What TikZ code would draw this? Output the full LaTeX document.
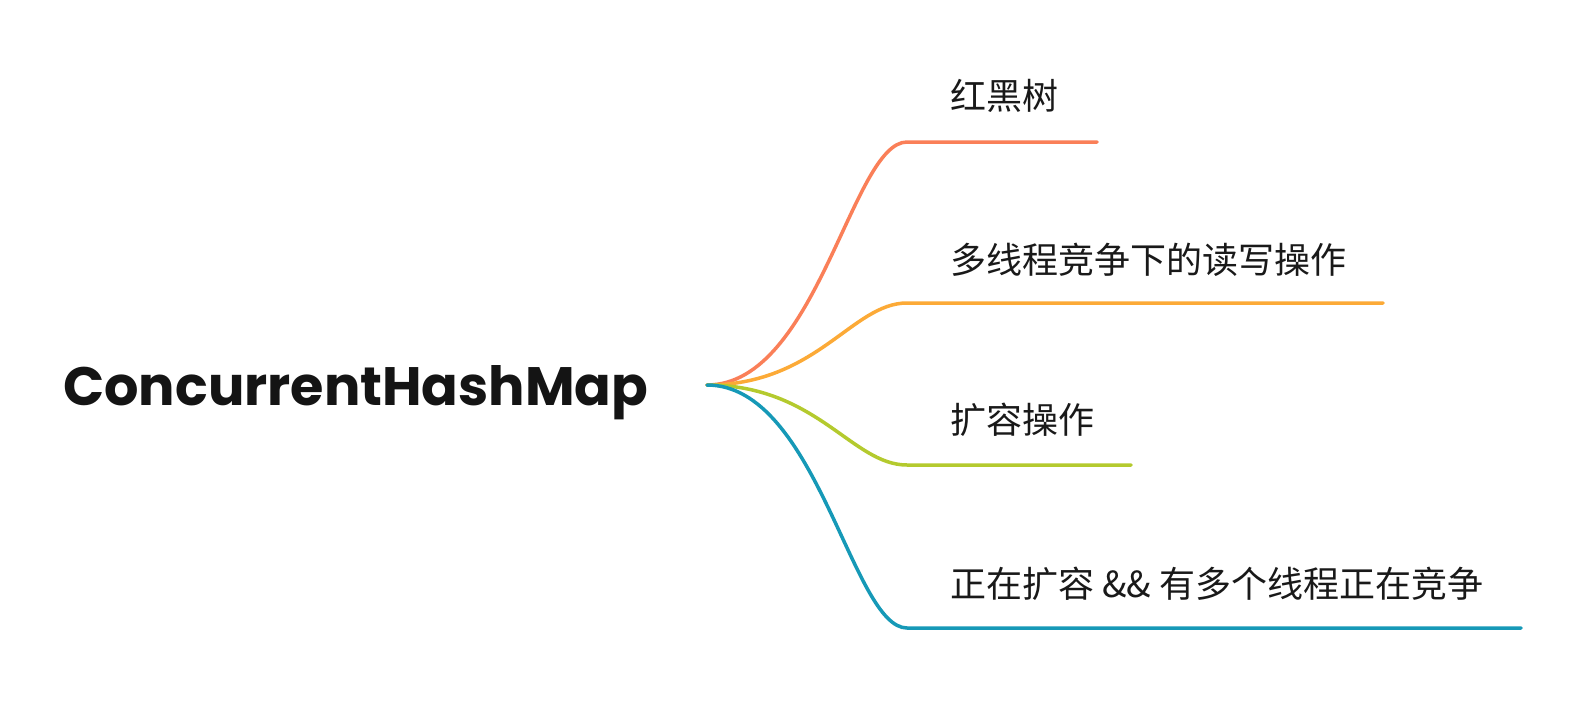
\documentclass[tikz,border=0pt]{standalone}
\usepackage{fontspec}
\newfontfamily\cjk{Noto Sans CJK SC}
\newfontfamily\titlefont{Poppins}
\definecolor{cred}{HTML}{FA7F58}
\definecolor{corange}{HTML}{FCAA37}
\definecolor{cgreen}{HTML}{B4CA2E}
\definecolor{cblue}{HTML}{1699B7}
\begin{document}
\begin{tikzpicture}[x=1pt,y=-1pt,
  branch/.style={line width=3.5pt, line cap=round},
  lbl/.style={anchor=base west, inner sep=0pt, text=black!90, font=\cjk\fontsize{36}{36}\selectfont}]
\useasboundingbox[fill=white] (0,0) rectangle (1588,718);
\node[anchor=base west, inner sep=0pt, text=black!92] (title) at (63,405) {\resizebox{585pt}{!}{\titlefont\bfseries ConcurrentHashMap}};
\coordinate (root) at (707,385);
\coordinate (rs) at (907,142);  \coordinate (re) at (1097,142);
\coordinate (os) at (907,303);  \coordinate (oe) at (1383,303);
\coordinate (gs) at (907,465);  \coordinate (ge) at (1131,465);
\coordinate (bs) at (907,628);  \coordinate (be) at (1521,628);
\node[lbl] (l1) at (950,109) {红黑树};
\node[lbl] (l2) at (950,273) {多线程竞争下的读写操作};
\node[lbl] (l3) at (950,433) {扩容操作};
\node[lbl] (l4) at (950,597) {正在扩容 \&\& 有多个线程正在竞争};
\draw[branch, cred] (root) .. controls +(110,0) and +(-55,0) .. (rs) -- (re);
\draw[branch, corange] (root) .. controls +(110,0) and +(-55,0) .. (os) -- (oe);
\draw[branch, cgreen] (root) .. controls +(110,0) and +(-55,0) .. (gs) -- (ge);
\draw[branch, cblue] (root) .. controls +(110,0) and +(-55,0) .. (bs) -- (be);
\end{tikzpicture}
\end{document}
